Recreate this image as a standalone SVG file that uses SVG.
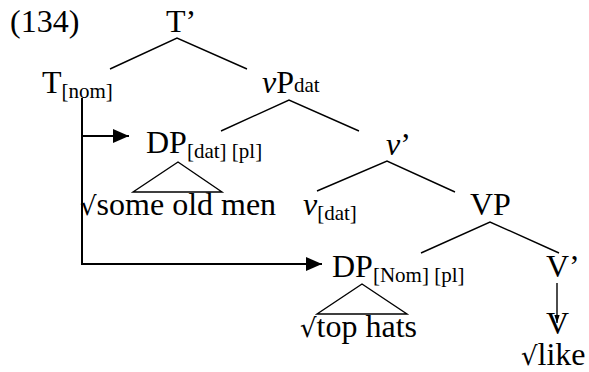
<svg xmlns="http://www.w3.org/2000/svg" width="589" height="372" viewBox="0 0 589 372">
<style>
text{font-family:"Liberation Serif","Times New Roman",serif;font-size:32px;fill:#000}
.sub{font-size:21px}
.it{font-style:italic}
.rt{font-family:"DejaVu Serif","Liberation Serif",serif;font-size:26px}
.edge{stroke:#000;stroke-width:1.4;fill:none}
.arr{stroke:#000;stroke-width:2;fill:none}
</style>
<defs>
<marker id="ah" markerWidth="8" markerHeight="7" refX="8" refY="3.5" orient="auto" markerUnits="strokeWidth">
<path d="M0,0 L8,3.5 L0,7 Z" fill="#000"/>
</marker>
<marker id="ahs" markerWidth="6" markerHeight="6" refX="6" refY="3" orient="auto" markerUnits="strokeWidth">
<path d="M0,1 L6,3 L0,5 Z" fill="#000"/>
</marker>
</defs>
<rect width="589" height="372" fill="#fff"/>
<g id="label"><text x="10" y="32">(134)</text></g>
<g id="Tbar"><text x="166" y="32">T’</text></g>
<g id="T"><text x="42" y="93">T<tspan class="sub" dy="5">[nom]</tspan></text></g>
<g id="vP"><text x="262" y="93"><tspan class="it">v</tspan>P<tspan class="sub" dy="-1">dat</tspan></text></g>
<g id="DPdat"><text x="146" y="153">DP<tspan class="sub" dy="5">[dat] [pl]</tspan></text></g>
<g id="someoldmen"><text x="80" y="215"><tspan class="rt">√</tspan>some old men</text></g>
<g id="vbar"><text x="386" y="155"><tspan class="it">v</tspan>’</text></g>
<g id="vdat"><text x="303" y="215"><tspan class="it">v</tspan><tspan class="sub" dy="5">[dat]</tspan></text></g>
<g id="VP"><text x="470" y="215">VP</text></g>
<g id="DPnom"><text x="332" y="277">DP<tspan class="sub" dy="5">[Nom] [pl]</tspan></text></g>
<g id="tophats"><text x="300" y="337"><tspan class="rt">√</tspan>top hats</text></g>
<g id="Vbar"><text x="546" y="277">V’</text></g>
<g id="V"><text x="546" y="334">V</text></g>
<g id="like"><text x="521" y="365"><tspan class="rt">√</tspan>like</text></g>
<g id="connectors">
<path class="edge" d="M110,69 L177,38 L247,69"/>
<path class="edge" d="M221,131 L289,100 L359,131"/>
<path class="edge" d="M317,191 L387,161 L455,192"/>
<path class="edge" d="M421,253 L490,222 L559,253"/>
<path class="edge" d="M133,192 L178,162 L222,192 Z"/>
<path class="edge" d="M317,314 L362,284 L407,314 Z"/>
<path class="arr" d="M82,98 L82,264 L322,264" marker-end="url(#ah)"/>
<path class="arr" d="M82,136 L129,136" marker-end="url(#ah)"/>
<path class="edge" d="M557,283 L557,323" marker-end="url(#ahs)"/>
</g>
</svg>
